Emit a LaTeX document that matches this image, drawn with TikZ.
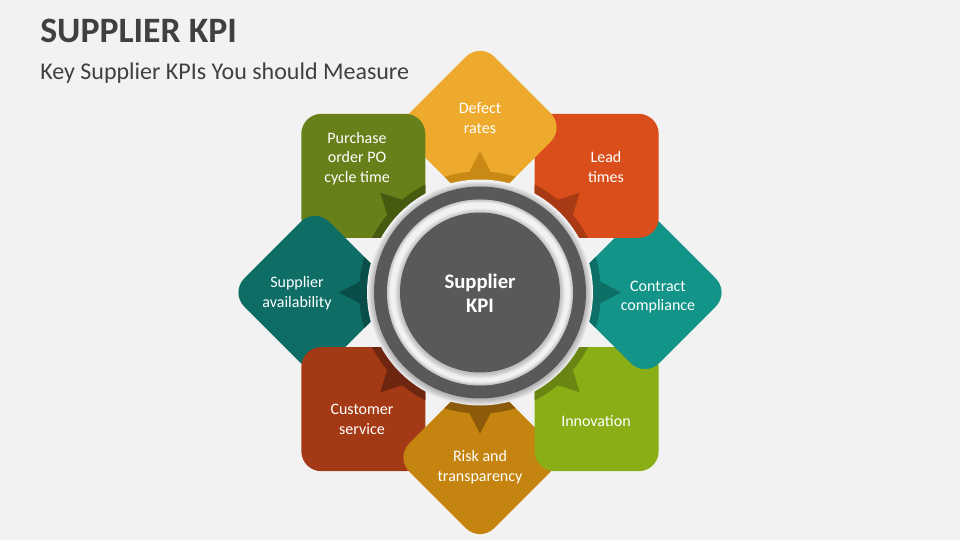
\documentclass[tikz,border=0pt]{standalone}
\usepackage{fontspec}
\setmainfont{Carlito}
\usetikzlibrary{calc}
\definecolor{bgc}{HTML}{F2F2F2}
\definecolor{dkg}{HTML}{595959}
\definecolor{ttl}{HTML}{404040}
\definecolor{cYel}{HTML}{EEAA2C}\definecolor{dYel}{HTML}{C88A14}
\definecolor{cOra}{HTML}{DA4E1C}\definecolor{dOra}{HTML}{A83A15}
\definecolor{cTea}{HTML}{139488}\definecolor{dTea}{HTML}{0E6F66}
\definecolor{cLim}{HTML}{8AAE16}\definecolor{dLim}{HTML}{6A8612}
\definecolor{cGol}{HTML}{C4840F}\definecolor{dGol}{HTML}{8C5A0A}
\definecolor{cRus}{HTML}{A43A15}\definecolor{dRus}{HTML}{6E2610}
\definecolor{cDkt}{HTML}{0E6E66}\definecolor{dDkt}{HTML}{0A4E49}
\definecolor{cOli}{HTML}{68801A}\definecolor{dOli}{HTML}{465A10}
\newcommand{\kpipetal}[5]{%
\begin{scope}
\coordinate (P) at ($(C)+(#1:165)$);
\clip[shift={(P)},rotate=#2,rounded corners=15pt] (-#3,-#3) rectangle (#3,#3);
\fill[#4] (P) circle[radius=100];
\fill[#5] (C) circle[radius=121];
\fill[#5] ($(C)+(#1:141)$) -- ($(C)+(#1:118)+(#1+90:12)$) -- ($(C)+(#1:118)+(#1-90:12)$) -- cycle;
\end{scope}}
\tikzset{
  lbl/.style={text=white, align=center, inner sep=0pt, font=\fontsize{12}{14.6}\selectfont},
}
\begin{document}
\begin{tikzpicture}[x=0.75pt,y=0.75pt]
\useasboundingbox (0,0) rectangle (960,540);
\fill[bgc] (0,0) rectangle (960,540);
\coordinate (C) at (480,247.5);
% petals, each covering its clockwise neighbour
\kpipetal{90}{45}{60}{cYel}{dYel}
\kpipetal{135}{0}{62}{cOli}{dOli}
\kpipetal{180}{45}{60}{cDkt}{dDkt}
\kpipetal{225}{0}{62}{cRus}{dRus}
\kpipetal{270}{45}{60}{cGol}{dGol}
\kpipetal{315}{0}{62}{cLim}{dLim}
\kpipetal{0}{45}{60}{cTea}{dTea}
\kpipetal{45}{0}{62}{cOra}{dOra}
\begin{scope}
\clip (480,0) rectangle (960,540);
\kpipetal{90}{45}{60}{cYel}{dYel}
\end{scope}
% centre hub
\fill[bgc] (C) circle[radius=113];
\foreach \r in {112,111,110,109,108,107}
  \fill[black,opacity=0.045] ($(C)+(0,-1)$) circle[radius=\r];
\fill[dkg] (C) circle[radius=106];
\fill[bgc] (C) circle[radius=93];
\foreach \r in {92,91,90}
  \fill[black,opacity=0.06,even odd rule] (C) circle[radius=93] (C) circle[radius=\r];
\foreach \r in {85,84,83,82,81}
  \fill[black,opacity=0.045] ($(C)+(0,-1)$) circle[radius=\r];
\fill[dkg] (C) circle[radius=80];
\node[text=white, align=center, inner sep=0pt, font=\fontsize{15.5}{18}\selectfont\bfseries] (hub) at (480,246.5) {Supplier\\KPI};
% labels
\node[lbl] (t1) at (480,422) {Defect\\rates};
\node[lbl] (t2) at (606,373) {Lead\\times};
\node[lbl] (t3) at (658,243) {Contract\\compliance};
\node[lbl] (t4) at (596,118.5) {Innovation};
\node[lbl] (t5) at (480,73) {Risk and\\transparency};
\node[lbl] (t6) at (362,120.5) {Customer\\service};
\node[lbl] (t7) at (297,247) {Supplier\\availability};
\node[lbl] (t8) at (357,381.5) {Purchase\\order PO\\cycle time};
% titles
\node[anchor=base west, inner sep=0pt, text=ttl, font=\fontsize{26.8}{31}\selectfont\bfseries] (title) at (40,497) {SUPPLIER KPI};
\node[anchor=base west, inner sep=0pt, text=ttl, font=\fontsize{18}{22}\selectfont] (sub) at (40,460) {Key Supplier KPIs You should Measure};
\end{tikzpicture}
\end{document}
